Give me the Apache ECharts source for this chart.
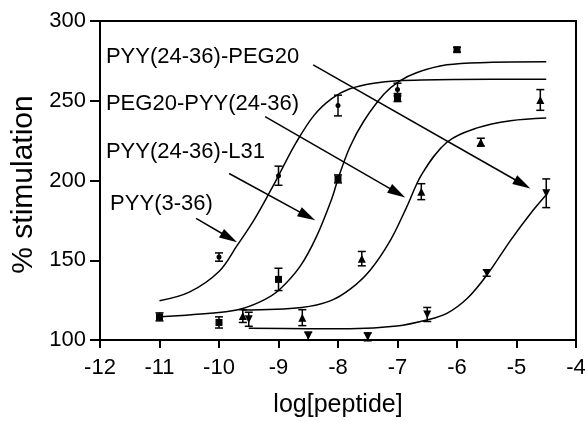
<!DOCTYPE html>
<html>
<head>
<meta charset="utf-8">
<script src="https://cdn.jsdelivr.net/npm/echarts@6/dist/echarts.min.js"></script>
<style>
  html, body { margin: 0; padding: 0; background: #fff; }
  #chart { width: 585px; height: 421px; }
</style>
</head>
<body>
<div id="chart"></div>
<script>
// measured points (log concentration, % stimulation, error)
const pyy336X = [-10, -9, -8, -7];
const pyy336Y = [152, 203, 247, 257];
const pyy336Err = [2.6, 6, 6.5, 4];

const l31X = [-11, -10, -9, -8, -7, -6];
const l31Y = [114.5, 111, 138, 201, 252, 282];
const l31Err = [2.5, 3.5, 7, 2.5, 2.5, 1.5];

const pegPyyX = [-9.6, -8.6, -7.6, -6.6, -5.6, -4.6];
const pegPyyY = [115, 114, 151, 193, 224, 250.5];
const pegPyyErr = [4, 5, 4.5, 5, 2.5, 6.5];

const pyyPegX = [-9.5, -8.5, -7.5, -6.5, -5.5, -4.5];
const pyyPegY = [113, 102.5, 102, 116, 142, 192];
const pyyPegErr = [4.4, 2.5, 2.5, 4.4, 2, 9];

// fitted curves
const fitPyy336X = [-11, -10.5, -10, -9.7, -9.4, -9.1, -9, -8.7, -8.4, -8.1, -7.8, -7.4, -7, -6, -4.5];
const fitPyy336Y = [124.6, 130, 143, 159, 176, 196, 203, 224, 241, 251.5, 257.5, 261, 262.5, 263.3, 263.5];

const fitL31X = [-11, -10, -9.6, -9.25, -9, -8.64, -8.36, -8.1, -8, -7.8, -7.57, -7.23, -6.98, -6.67, -6.17, -5.5, -4.5];
const fitL31Y = [114.6, 117.3, 119.8, 125, 131, 146, 165, 189, 201, 221, 237, 254, 262, 267.7, 272.5, 274, 274.4];

const fitPegPyyX = [-9.62, -8.61, -8.13, -7.79, -7.46, -7.12, -6.85, -6.59, -6.17, -5.66, -5.1, -4.5];
const fitPegPyyY = [118.75, 120.4, 124.5, 132, 143.75, 162.5, 183, 204, 224, 233, 237.5, 239.2];

const fitPyyPegX = [-9.5, -8.5, -7.8, -7.01, -6.51, -6.17, -5.83, -5.5, -5.1, -4.77, -4.5];
const fitPyyPegY = [107.3, 107.1, 107.1, 108.75, 112.5, 116.7, 126, 140.6, 162.5, 179, 191];

// annotations
const labelNames = ['PYY(24-36)-PEG20', 'PEG20-PYY(24-36)', 'PYY(24-36)-L31', 'PYY(3-36)'];
const labelX = [-11.9, -11.9, -11.9, -11.83];
const labelY = [277.5, 248, 218, 185.6];

// arrow tail and arrow-head centre
const arrowFrom = [[-8.417, 272.5], [-9.225, 240], [-9.83, 204.4], [-10.385, 176.25]];
const arrowTo = [[-4.898, 197.8], [-7.001, 192.2], [-8.516, 177.7], [-9.827, 164.1]];

const xTicks = { min: -12, max: -4, step: 1 };
const yTicks = { min: 100, max: 300, step: 50 };

const font = '"Liberation Sans", Arial, Helvetica, sans-serif';
const chart = echarts.init(document.getElementById('chart'));

const zip = (xs, ys) => xs.map((x, i) => [x, ys[i]]);
const zip3 = (xs, ys, es) => xs.map((x, i) => [x, ys[i], es[i]]);

function errorBars(params, api) {
  const x = api.value(0), y = api.value(1), e = api.value(2);
  const top = api.coord([x, y + e]);
  const bot = api.coord([x, y - e]);
  const w = 4;
  const style = { stroke: '#000', lineWidth: 1.5 };
  return {
    type: 'group',
    children: [
      { type: 'line', shape: { x1: top[0], y1: top[1], x2: bot[0], y2: bot[1] }, style },
      { type: 'line', shape: { x1: top[0] - w, y1: top[1], x2: top[0] + w, y2: top[1] }, style },
      { type: 'line', shape: { x1: bot[0] - w, y1: bot[1], x2: bot[0] + w, y2: bot[1] }, style }
    ]
  };
}

function curve(xs, ys) {
  return {
    type: 'line', data: zip(xs, ys), smooth: 0.35, showSymbol: false, silent: true,
    lineStyle: { color: '#000', width: 1.5 }, z: 2
  };
}

function points(xs, ys, symbol, size, rotate) {
  return {
    type: 'scatter', data: zip(xs, ys), symbol, symbolSize: size, symbolRotate: rotate || 0,
    itemStyle: { color: '#000', opacity: 1 }, z: 4
  };
}

function bars(xs, ys, es) {
  return { type: 'custom', data: zip3(xs, ys, es), renderItem: errorBars, encode: { x: 0, y: 1 }, z: 3 };
}

const option = {
  animation: false,
  backgroundColor: '#fff',
  grid: {
    left: 100, right: 9, top: 21, bottom: 81, outerBoundsMode: 'none',
    show: true, borderColor: '#000', borderWidth: 2
  },
  xAxis: {
    type: 'value', min: xTicks.min, max: xTicks.max, interval: xTicks.step,
    name: 'log[peptide]', nameLocation: 'middle', nameGap: 53,
    nameTextStyle: { fontFamily: font, fontSize: 25, color: '#000' },
    axisLine: { lineStyle: { color: '#000', width: 2 } },
    axisTick: { length: 8, lineStyle: { color: '#000', width: 2 } },
    axisLabel: { fontFamily: font, fontSize: 22, color: '#000', margin: 17 },
    splitLine: { show: false }
  },
  yAxis: {
    type: 'value', min: yTicks.min, max: yTicks.max, interval: yTicks.step,
    name: '% stimulation', nameLocation: 'middle', nameGap: 60,
    nameTextStyle: { fontFamily: font, fontSize: 30, color: '#000', padding: [0, 8, 0, 0] },
    axisLine: { lineStyle: { color: '#000', width: 2 } },
    axisTick: { length: 10, lineStyle: { color: '#000', width: 2 } },
    axisLabel: { fontFamily: font, fontSize: 22, color: '#000', margin: 14 },
    splitLine: { show: false }
  },
  series: [
    curve(fitPyy336X, fitPyy336Y),
    curve(fitL31X, fitL31Y),
    curve(fitPegPyyX, fitPegPyyY),
    curve(fitPyyPegX, fitPyyPegY),
    bars(pyy336X, pyy336Y, pyy336Err),
    bars(l31X, l31Y, l31Err),
    bars(pegPyyX, pegPyyY, pegPyyErr),
    bars(pyyPegX, pyyPegY, pyyPegErr),
    points(pyy336X, pyy336Y, 'circle', 5),
    points(l31X, l31Y, 'rect', 7),
    points(pegPyyX, pegPyyY, 'triangle', 8),
    points(pyyPegX, pyyPegY, 'triangle', 8, 180),
    {
      type: 'scatter', symbolSize: 0, silent: true, z: 5,
      itemStyle: { color: '#000', opacity: 1 },
      data: labelNames.map((n, i) => ({ name: n, value: [labelX[i], labelY[i]] })),
      label: {
        show: true, position: 'right', distance: 0, formatter: '{b}',
        fontFamily: font, fontSize: 22, color: '#000', opacity: 1
      },
      markLine: {
        silent: true, animation: false,
        symbol: ['none', 'triangle'], symbolSize: [10, 18],
        label: { show: false },
        itemStyle: { color: '#000' },
        lineStyle: { color: '#000', width: 1.5, type: 'solid', opacity: 1 },
        data: arrowFrom.map((p, i) => [{ coord: p }, { coord: arrowTo[i] }])
      }
    }
  ]
};

chart.setOption(option);
</script>
</body>
</html>
